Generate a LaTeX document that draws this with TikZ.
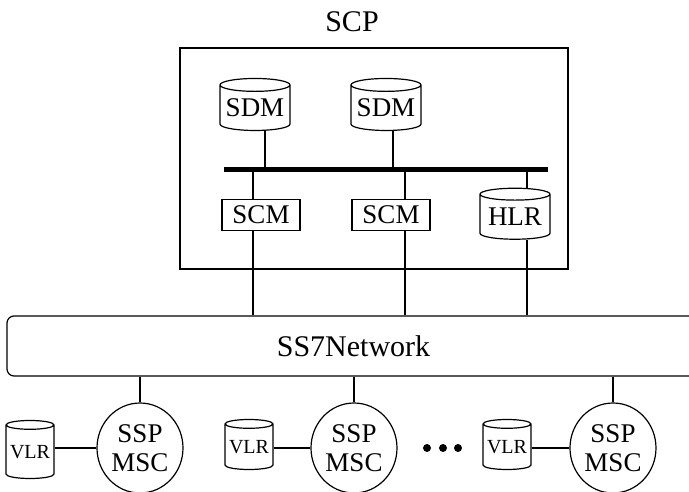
\documentclass[tikz,border=0pt]{standalone}
\usepackage{fontspec}
\setmainfont{Liberation Serif}
\usetikzlibrary{positioning, shapes.geometric}

\begin{document}
\begin{tikzpicture}[x=1pt, y=-1pt, line width=1.2pt,
    dbnode/.style={draw, cylinder, shape border rotate=90, aspect=0.22, minimum width=70pt, minimum height=52pt, inner sep=0pt, font=\fontsize{27}{29}\selectfont},
    vlrnode/.style={dbnode, minimum width=48pt, minimum height=50pt, font=\fontsize{20}{22}\selectfont},
    cmnode/.style={draw, rectangle, minimum width=78pt, minimum height=31pt, inner sep=0pt, font=\fontsize{27}{29}\selectfont},
    sspnode/.style={draw, ellipse, minimum width=86pt, minimum height=90pt, inner sep=0pt, align=center, font=\fontsize{27}{29}\selectfont}]
  \useasboundingbox (0,0) rectangle (689,492);

  % service control point
  \node[draw, minimum width=388pt, minimum height=221pt, inner sep=0pt] (scp) at (374,158.5) {};
  \node[font=\fontsize{30}{32}\selectfont] (scptitle) at (352,22) {SCP};
  \node[dbnode] (sdm1) at (255,108) {SDM};
  \node[dbnode] (sdm2) at (386,108) {SDM};
  \node[cmnode] (scm1) at (261,215) {SCM};
  \node[cmnode] (scm2) at (391,215) {SCM};
  \node[dbnode, minimum height=51pt] (hlr) at (515,217) {HLR};

  % internal bus and its taps
  \coordinate (busl) at (224,170);
  \coordinate (busr) at (548,170);
  \draw[line width=5pt] (busl) -- (busr);
  \coordinate (a1) at (265,170);
  \coordinate (a2) at (393,170);
  \coordinate (b1) at (253,170);
  \coordinate (b2) at (405,170);
  \coordinate (b3) at (527,170);

  % signalling network
  \node[draw, rounded corners=7pt, minimum width=693pt, minimum height=60pt, inner sep=0pt, font=\fontsize{30}{32}\selectfont] (ss7) at (353.5,346) {SS7Network};

  % switching points
  \node[sspnode] (ssp1) at (140,448) {SSP\\MSC};
  \node[sspnode] (ssp2) at (354,448) {SSP\\MSC};
  \node[sspnode] (ssp3) at (613,448) {SSP\\MSC};
  \node[vlrnode, minimum height=58pt] (vlr1) at (30,452) {VLR};
  \node[vlrnode] (vlr2) at (249,447) {VLR};
  \node[vlrnode] (vlr3) at (507,447) {VLR};
  \foreach \x in {427,443,458}
    \fill (\x,448) circle (4pt);

  \draw (sdm1.south -| a1) -- (a1);
  \draw (sdm2.south -| a2) -- (a2);
  \draw (b1) -- (scm1.north -| b1);
  \draw (b2) -- (scm2.north -| b2);
  \draw (b3) -- (hlr.north -| b3);
  \draw (scm1.south -| b1) -- (ss7.north -| b1);
  \draw (scm2.south -| b2) -- (ss7.north -| b2);
  \draw (hlr.south -| b3) -- (ss7.north -| b3);

  \draw (ss7.south -| ssp1) -- (ssp1.north);
  \draw (ss7.south -| ssp2) -- (ssp2.north);
  \draw (ss7.south -| ssp3) -- (ssp3.north);
  \draw (vlr1.east |- ssp1.west) -- (ssp1.west);
  \draw (vlr2.east |- ssp2.west) -- (ssp2.west);
  \draw (vlr3.east |- ssp3.west) -- (ssp3.west);
\end{tikzpicture}
\end{document}
